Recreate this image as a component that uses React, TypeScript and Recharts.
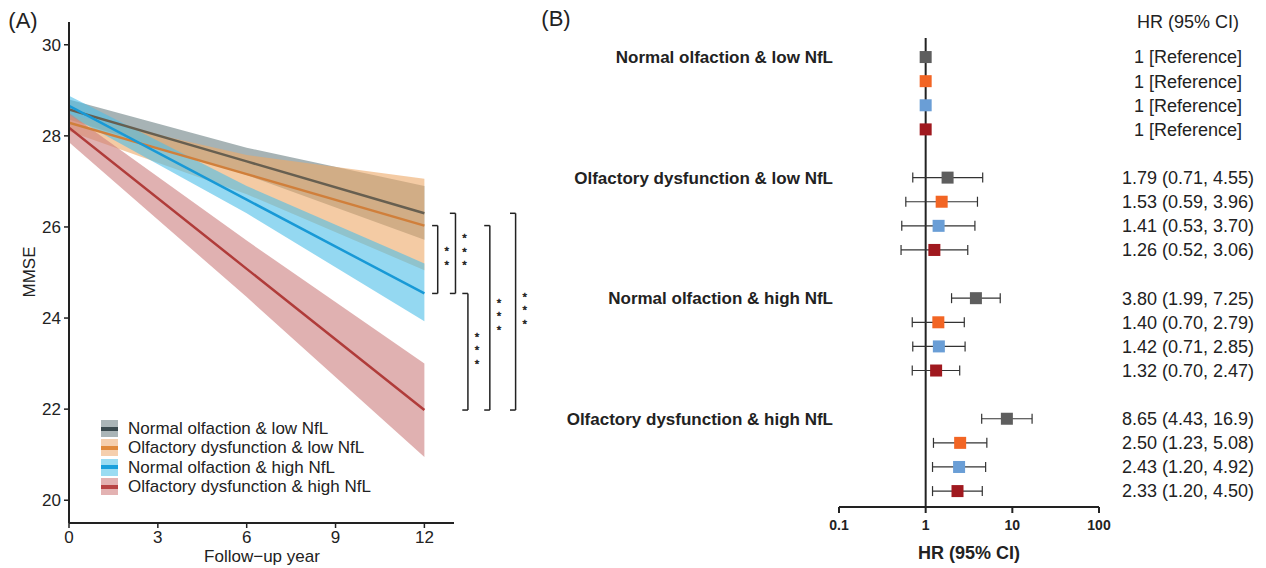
import React from 'react';
import {
  ComposedChart,
  Area,
  Line,
  XAxis,
  YAxis,
  ReferenceLine,
  ReferenceDot,
  ScatterChart,
  Scatter,
  ErrorBar,
} from 'recharts';

const FONT = '"Liberation Sans", Arial, Helvetica, sans-serif';
const INK = '#222222';

// ---------------- Panel A: MMSE trajectories ----------------
const groupNames = [
  'Normal olfaction & low NfL',
  'Olfactory dysfunction & low NfL',
  'Normal olfaction & high NfL',
  'Olfactory dysfunction & high NfL',
];
const followUpYears = [0, 6, 12];
const xTicksA = [0, 3, 6, 9, 12];
const yTicksA = [20, 22, 24, 26, 28, 30];

const normalLowMean = [28.58, 27.44, 26.3];
const normalLowLo = [28.36, 27.14, 25.72];
const normalLowHi = [28.8, 27.74, 26.9];

const dysLowMean = [28.29, 27.16, 26.03];
const dysLowLo = [28.1, 26.72, 25.05];
const dysLowHi = [28.47, 27.58, 27.06];

const normalHighMean = [28.66, 26.6, 24.54];
const normalHighLo = [28.45, 26.3, 23.93];
const normalHighHi = [28.88, 26.9, 25.2];

const dysHighMean = [28.18, 25.08, 21.98];
const dysHighLo = [27.86, 24.46, 20.95];
const dysHighHi = [28.5, 25.7, 23.0];

const meanSeries = [normalLowMean, dysLowMean, normalHighMean, dysHighMean];
const loSeries = [normalLowLo, dysLowLo, normalHighLo, dysHighLo];
const hiSeries = [normalLowHi, dysLowHi, normalHighHi, dysHighHi];

const lineColorsA = ['#675f50', '#d07f3b', '#1899d6', '#b03c3a'];
const bandColorsA = ['#6c8084', '#eda867', '#4dbee8', '#cb7d7d'];
const legendLineColors = ['#3a4a4e', '#e08a3c', '#1aa0dc', '#b84444'];
const legendFillColors = ['#aab5b7', '#f5cfae', '#9bdcf2', '#e3b2b2'];

const trajData = followUpYears.map((x, i) => {
  const row: any = { x };
  meanSeries.forEach((s, k) => {
    row['m' + k] = s[i];
    row['b' + k] = [loSeries[k][i], hiSeries[k][i]];
  });
  return row;
});

// significance brackets: compare end values of two groups
const bracketFrom = [1, 0, 2, 1, 0];
const bracketTo = [2, 2, 3, 3, 3];
const bracketStars = [2, 3, 3, 3, 3];
const bracketX = [12.45, 13.05, 13.47, 14.21, 15.08];
const endValues = meanSeries.map((s) => s[s.length - 1]);

const StarStack = (props: any) => {
  const { cx, cy, count } = props;
  if (cx == null || cy == null) return null;
  const gap = 13.5;
  const startY = cy + 2.5 - ((count - 1) / 2) * gap;
  const items = [];
  for (let i = 0; i < count; i++) {
    items.push(
      <text
        key={i}
        x={cx}
        y={startY + i * gap}
        textAnchor="middle"
        fontSize={11.5}
        fill={INK}
        stroke={INK}
        strokeWidth={0.45}
        fontFamily={FONT}
      >
        *
      </text>
    );
  }
  return <g>{items}</g>;
};

// ---------------- Panel B: Forest plot ----------------
const modelColors = ['#5e5e5e', '#f26524', '#6a9ed6', '#a0191f'];
const hrValues = [
  [1, 1, 1, 1],
  [1.79, 1.53, 1.41, 1.26],
  [3.8, 1.4, 1.42, 1.32],
  [8.65, 2.5, 2.43, 2.33],
];
const hrLower = [
  [1, 1, 1, 1],
  [0.71, 0.59, 0.53, 0.52],
  [1.99, 0.7, 0.71, 0.7],
  [4.43, 1.23, 1.2, 1.2],
];
const hrUpper = [
  [1, 1, 1, 1],
  [4.55, 3.96, 3.7, 3.06],
  [7.25, 2.79, 2.85, 2.47],
  [16.9, 5.08, 4.92, 4.5],
];
const xTicksB = [0.1, 1, 10, 100];

const fmt = (v: number) => (v >= 10 ? v.toFixed(1) : v.toFixed(2));

const refPoints: any[] = [];
const hrPoints: any[] = [];
const hrTextByRow: Record<number, string> = {};
hrValues.forEach((grp, g) => {
  grp.forEach((hr, m) => {
    const row = g * 5 + m;
    const lo = hrLower[g][m];
    const hi = hrUpper[g][m];
    const point = { row, hr, err: [hr - lo, hi - hr], color: modelColors[m] };
    if (g === 0) {
      refPoints.push(point);
      hrTextByRow[row] = '1 [Reference]';
    } else {
      hrPoints.push(point);
      hrTextByRow[row] = `${fmt(hr)} (${fmt(lo)}, ${fmt(hi)})`;
    }
  });
});
const valueRows = Object.keys(hrTextByRow).map(Number);
const groupRows = [0, 5, 10, 15];

const SquareMark = (props: any) => {
  const { cx, cy, payload } = props;
  if (cx == null || cy == null) return null;
  return <rect x={cx - 6} y={cy - 6} width={12} height={12} fill={payload.color} />;
};

const HrTick = (props: any) => {
  const { x, y, payload } = props;
  return (
    <text x={x + 89} y={y} dy="0.355em" textAnchor="middle" fontSize={18} fill={INK} fontFamily={FONT}>
      {hrTextByRow[payload.value]}
    </text>
  );
};

const abs = (left: number, top: number, extra: any = {}) => ({
  position: 'absolute' as const,
  left,
  top,
  lineHeight: 1,
  whiteSpace: 'nowrap' as const,
  color: INK,
  fontFamily: FONT,
  transform: 'translate(-50%, -50%)',
  ...extra,
});

export default function App() {
  return (
    <div
      style={{
        position: 'absolute',
        left: 0,
        top: 0,
        width: 1266,
        height: 568,
        background: '#ffffff',
        fontFamily: FONT,
        overflow: 'hidden',
      }}
    >
      {/* Panel A */}
      <div style={{ position: 'absolute', left: 0, top: 0 }}>
        <ComposedChart
          width={540}
          height={568}
          data={trajData}
          margin={{ top: 22, right: 86, bottom: 15, left: 20 }}
        >
          <XAxis
            dataKey="x"
            type="number"
            domain={[0, 13]}
            ticks={xTicksA}
            allowDataOverflow
            height={30}
            tickSize={5}
            tickMargin={3}
            axisLine={{ stroke: INK, strokeWidth: 2 }}
            tickLine={{ stroke: INK, strokeWidth: 1.5 }}
            tick={{ fontSize: 17, fill: INK }}
          />
          <YAxis
            type="number"
            domain={[19.5, 30.5]}
            ticks={yTicksA}
            allowDataOverflow
            width={49}
            tickSize={5}
            tickMargin={3}
            axisLine={{ stroke: INK, strokeWidth: 2 }}
            tickLine={{ stroke: INK, strokeWidth: 1.5 }}
            tick={{ fontSize: 17, fill: INK }}
          />
          {[0, 1, 2, 3].map((k) => (
            <Area
              key={'band' + k}
              dataKey={'b' + k}
              type="linear"
              stroke="none"
              fill={bandColorsA[k]}
              fillOpacity={0.6}
              isAnimationActive={false}
              activeDot={false}
            />
          ))}
          {[0, 1, 2, 3].map((k) => (
            <Line
              key={'line' + k}
              dataKey={'m' + k}
              type="linear"
              stroke={lineColorsA[k]}
              strokeWidth={2.5}
              dot={false}
              activeDot={false}
              isAnimationActive={false}
            />
          ))}
          {bracketFrom.map((f, k) => {
            const yTop = endValues[f];
            const yBot = endValues[bracketTo[k]];
            const xv = bracketX[k];
            const xc = xv - 0.19;
            return [
              <ReferenceLine
                key={'bt' + k}
                segment={[{ x: xc, y: yTop }, { x: xv, y: yTop }]}
                ifOverflow="visible"
                stroke={INK}
                strokeWidth={1.5}
              />,
              <ReferenceLine
                key={'bv' + k}
                segment={[{ x: xv, y: yTop }, { x: xv, y: yBot }]}
                ifOverflow="visible"
                stroke={INK}
                strokeWidth={1.5}
              />,
              <ReferenceLine
                key={'bb' + k}
                segment={[{ x: xc, y: yBot }, { x: xv, y: yBot }]}
                ifOverflow="visible"
                stroke={INK}
                strokeWidth={1.5}
              />,
              <ReferenceDot
                key={'bs' + k}
                x={xv + 0.305}
                y={(yTop + yBot) / 2}
                r={0}
                ifOverflow="visible"
                shape={(p: any) => <StarStack cx={p.cx} cy={p.cy} count={bracketStars[k]} />}
              />,
            ];
          })}
        </ComposedChart>
      </div>

      <div style={abs(23, 21, { fontSize: 22 })}>(A)</div>
      <div style={abs(28.5, 272, { fontSize: 17, transform: 'translate(-50%, -50%) rotate(-90deg)' })}>MMSE</div>
      <div style={abs(262, 556, { fontSize: 17 })}>Follow−up year</div>

      {/* Legend A */}
      <div style={{ position: 'absolute', left: 101, top: 419, fontFamily: FONT }}>
        {groupNames.map((name, k) => (
          <div key={name} style={{ display: 'flex', alignItems: 'center', height: 19.3 }}>
            <div
              style={{
                width: 17,
                height: 17,
                background: legendFillColors[k],
                display: 'flex',
                alignItems: 'center',
              }}
            >
              <div style={{ width: 17, height: 4, background: legendLineColors[k] }} />
            </div>
            <div style={{ marginLeft: 10, fontSize: 17, color: INK, lineHeight: 1, whiteSpace: 'nowrap' }}>{name}</div>
          </div>
        ))}
      </div>

      {/* Panel B */}
      <div style={{ position: 'absolute', left: 540, top: 0 }}>
        <ScatterChart width={726} height={568} margin={{ top: 38, right: 0, bottom: 0, left: 0 }}>
          <XAxis
            dataKey="hr"
            type="number"
            scale="log"
            domain={[0.1, 100]}
            ticks={xTicksB}
            allowDataOverflow
            height={61}
            tickSize={6}
            tickMargin={7}
            tickFormatter={(v: number) => String(v)}
            axisLine={{ stroke: INK, strokeWidth: 2 }}
            tickLine={{ stroke: INK, strokeWidth: 2 }}
            tick={{ fontSize: 14, fontWeight: 700, fill: INK }}
          />
          <YAxis
            yAxisId="left"
            dataKey="row"
            type="number"
            domain={[-0.79, 18.66]}
            reversed
            allowDataOverflow
            ticks={groupRows}
            width={299}
            tickSize={0}
            tickMargin={6}
            axisLine={false}
            tickLine={false}
            tickFormatter={(v: number) => groupNames[Math.round(v / 5)]}
            tick={{ fontSize: 17, fontWeight: 700, fill: INK }}
          />
          <YAxis
            yAxisId="right"
            orientation="right"
            dataKey="row"
            type="number"
            domain={[-0.79, 18.66]}
            reversed
            allowDataOverflow
            ticks={valueRows}
            width={167}
            tickSize={0}
            tickMargin={0}
            axisLine={false}
            tickLine={false}
            tick={<HrTick />}
          />
          <ReferenceLine yAxisId="left" x={1} stroke={INK} strokeWidth={2} />
          <Scatter
            yAxisId="left"
            data={hrPoints}
            shape={<SquareMark />}
            isAnimationActive={false}
          >
            <ErrorBar dataKey="err" direction="x" width={5} stroke="#333333" strokeWidth={1.2} />
          </Scatter>
          <Scatter
            yAxisId="right"
            data={refPoints}
            shape={<SquareMark />}
            isAnimationActive={false}
          />
        </ScatterChart>
      </div>

      <div style={abs(556, 19, { fontSize: 22 })}>(B)</div>
      <div style={abs(1188, 22, { fontSize: 18 })}>HR (95% CI)</div>
      <div style={abs(969, 553, { fontSize: 18, fontWeight: 700 })}>HR (95% CI)</div>
    </div>
  );
}
